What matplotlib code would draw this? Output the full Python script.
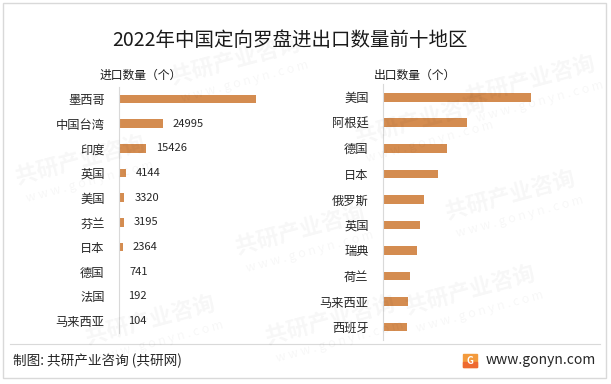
import matplotlib
matplotlib.use("Agg")
import matplotlib.pyplot as plt
from matplotlib.patches import Rectangle

plt.rcParams['font.family'] = ['Noto Sans CJK SC', 'DejaVu Sans']

title = "2022年中国定向罗盘进出口数量前十地区"
import_label = "进口数量（个）"
export_label = "出口数量（个）"

import_regions = ["墨西哥", "中国台湾", "印度", "英国", "美国", "芬兰", "日本", "德国", "法国", "马来西亚"]
import_values = [76800, 24995, 15426, 4144, 3320, 3195, 2364, 741, 192, 104]
import_show_label = [False, True, True, True, True, True, True, True, True, True]

export_regions = ["美国", "阿根廷", "德国", "日本", "俄罗斯", "英国", "瑞典", "荷兰", "马来西亚", "西班牙"]
export_values = [83000, 47200, 36200, 31200, 23300, 20900, 19400, 15500, 14400, 13800]

BAR = "#D48C50"
W, H = 611, 384
fig = plt.figure(figsize=(W / 100, H / 100), dpi=100)

def px_axes(x0, y0, x1, y1):
    return fig.add_axes([x0 / W, 1 - y1 / H, (x1 - x0) / W, (y1 - y0) / H])

UNITS_PER_PX = 558

# faint watermarks
wm_pos = [(80, 160), (235, 60), (300, 230), (150, 320), (420, 120), (530, 80), (470, 290), (510, 195), (330, 320)]
for (x, y) in wm_pos:
    fig.text(x / W, 1 - y / H, "共研产业咨询", fontsize=16, color="#000000", alpha=0.035,
             rotation=15, ha="center", va="center", fontweight="bold")
    fig.text((x + 10) / W, 1 - (y + 22) / H, "w w w . g o n y n . c o m", fontsize=9,
             color="#000000", alpha=0.035, rotation=15, ha="center", va="center")

# left chart
axL = px_axes(118.5, 86.7, 290, 333.3)
n = len(import_regions)
ypos = list(range(n))
axL.barh(ypos, import_values, height=0.35, color=BAR)
axL.set_ylim(n - 0.5, -0.5)
axL.set_xlim(0, (290 - 118.5) * UNITS_PER_PX)
axL.set_yticks(ypos)
axL.set_yticklabels(import_regions, fontsize=8.8, color="#262626")
axL.tick_params(axis="y", length=0, pad=10)
axL.set_xticks([])
for s in ["top", "right", "bottom"]:
    axL.spines[s].set_visible(False)
axL.spines["left"].set_color("#D9D9D9")
axL.patch.set_alpha(0)
for i, (v, show) in enumerate(zip(import_values, import_show_label)):
    if show:
        axL.annotate(f"{v}", xy=(v, i), xytext=(7, 0), textcoords="offset points",
                     ha="left", va="center", fontsize=8, color="#262626")

# right chart
axR = px_axes(382.5, 84.5, 590, 339.8)
m = len(export_regions)
ypos2 = list(range(m))
axR.barh(ypos2, export_values, height=0.34, color=BAR)
axR.set_ylim(m - 0.5, -0.5)
axR.set_xlim(0, (590 - 382.5) * UNITS_PER_PX)
axR.set_yticks(ypos2)
axR.set_yticklabels(export_regions, fontsize=8.8, color="#262626")
axR.tick_params(axis="y", length=0, pad=10)
axR.set_xticks([])
for s in ["top", "right", "bottom"]:
    axR.spines[s].set_visible(False)
axR.spines["left"].set_color("#D9D9D9")
axR.patch.set_alpha(0)

# titles
fig.text(289.5 / W, 1 - 41 / H, title, fontsize=14, ha="center", va="center", color="#1a1a1a")
fig.text(100 / W, 1 - 75 / H, import_label, fontsize=8.5, ha="left", va="center", color="#1a1a1a")
fig.text(456 / W, 1 - 75 / H, export_label, fontsize=8.5, ha="right", va="center", color="#1a1a1a")

# footer
fig.add_artist(plt.Line2D([10 / W, 600 / W], [1 - 344 / H, 1 - 344 / H], color="#D9D9D9", lw=0.8))
fig.text(12.5 / W, 1 - 360.5 / H, "制图: 共研产业咨询 (共研网)", fontsize=9.8, ha="left", va="center", color="#262626")
fig.text(486 / W, 1 - 360 / H, "www.gonyn.com", fontsize=10, ha="left", va="center", color="#262626")
fig.add_artist(Rectangle((463 / W, 1 - 367 / H), 14 / W, 13 / H, color="#F39A3C", transform=fig.transFigure))
fig.add_artist(Rectangle((463 / W, 1 - 367 / H), 14 / W, 5 / H, color="#EE6A2F", transform=fig.transFigure))
fig.text(470 / W, 1 - 360.5 / H, "G", fontsize=7, fontweight="bold", color="white", ha="center", va="center")

# border
fig.add_artist(Rectangle((3 / W, 1 - 378 / H), 603 / W, 375 / H, fill=False, ec="#D9D9D9", lw=1,
                         transform=fig.transFigure))

fig.savefig("out.png", dpi=100)
